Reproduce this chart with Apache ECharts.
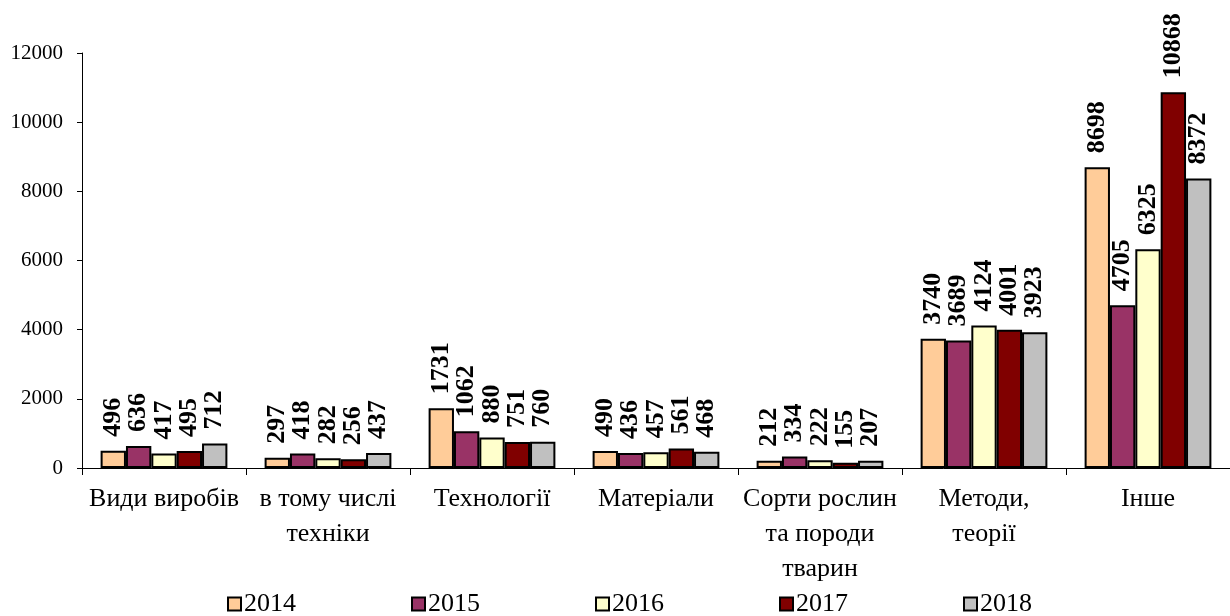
<!DOCTYPE html>
<html>
<head>
<meta charset="utf-8">
<script src="https://cdn.jsdelivr.net/npm/echarts@6/dist/echarts.min.js"></script>
<style>
  html, body { margin: 0; padding: 0; background: #fff; }
  #echart-box { width: 1230px; height: 616px; }
</style>
</head>
<body>
<div id="echart-box"></div>
<script>
// categories on the x axis
const categories = ["Види виробів", "в тому числі\nтехніки", "Технології", "Матеріали",
    "Сорти рослин\nта породи\nтварин", "Методи,\nтеорії", "Інше"];
const years = ["2014", "2015", "2016", "2017", "2018"];
const colors = ["#FFCC99", "#993366", "#FFFFCC", "#800000", "#C0C0C0"];

const v2014 = [496, 297, 1731, 490, 212, 3740, 8698];
const v2015 = [636, 418, 1062, 436, 334, 3689, 4705];
const v2016 = [417, 282, 880, 457, 222, 4124, 6325];
const v2017 = [495, 256, 751, 561, 155, 4001, 10868];
const v2018 = [712, 437, 760, 468, 207, 3923, 8372];
const values = [v2014, v2015, v2016, v2017, v2018];

function init(){
    const element = document.getElementById("echart-box");
    const instance = echarts.init(element);
    const font = "'Liberation Serif', 'Times New Roman', serif";

    let series = years.map(function(y, i){
        return {
            name: y,
            type: "bar",
            data: values[i],
            barGap: 0,
            barCategoryGap: "22.7%",
            itemStyle: { color: colors[i], borderColor: "#000", borderWidth: 2 },
            label: {
                show: true,
                position: "top",
                rotate: 90,
                align: "left",
                verticalAlign: "middle",
                distance: 14,
                color: "#000",
                fontFamily: font,
                fontWeight: "bold",
                fontSize: 26
            }
        };
    });

    let option = {
        animation: false,
        textStyle: { fontFamily: font },
        grid: { left: 82, top: 53, bottom: 148, width: 1158 },
        legend: {
            left: 227,
            top: 591,
            padding: 0,
            icon: "rect",
            itemWidth: 13,
            itemHeight: 13,
            itemGap: 115,
            textStyle: { fontFamily: font, fontSize: 26, color: "#000", padding: [0, 0, 0, -2] },
            itemStyle: { borderColor: "#000", borderWidth: 2 },
            data: years
        },
        xAxis: {
            type: "category",
            data: categories,
            axisLine: { lineStyle: { color: "#000", width: 1 } },
            axisTick: { show: true, length: 7, lineStyle: { color: "#000" } },
            axisLabel: {
                interval: 0,
                margin: 14,
                color: "#000",
                fontFamily: font,
                fontSize: 26,
                lineHeight: 35
            }
        },
        yAxis: {
            type: "value",
            min: 0,
            max: 12000,
            interval: 2000,
            splitLine: { show: false },
            axisLine: { show: true, lineStyle: { color: "#000", width: 1 } },
            axisTick: { show: true, length: 5, lineStyle: { color: "#000" } },
            axisLabel: {
                margin: 19,
                color: "#000",
                fontFamily: font,
                fontSize: 21,
                formatter: function(v){ return String(v); }
            }
        },
        series: series
    };

    instance.setOption(option);
}
init();
</script>
</body>
</html>
